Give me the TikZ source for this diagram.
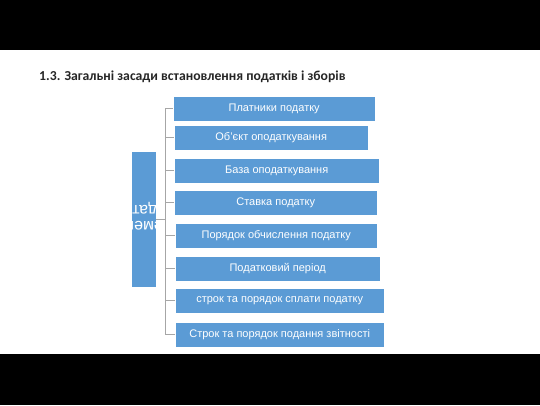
\documentclass[tikz,border=0pt]{standalone}
\usepackage{fontspec}
\setmainfont{Liberation Sans}
\newfontfamily\titlefont{Carlito}
\usepackage{tikz}
\usetikzlibrary{positioning,calc}
\definecolor{boxblue}{HTML}{5B9BD5}
\definecolor{linkgray}{HTML}{A6A6A6}
\tikzset{
    factor/.style={draw=white, line width=0.4pt, fill=boxblue, text=white, anchor=north west,
        minimum height=24.5pt, inner sep=0pt, font=\fontsize{11}{13}\selectfont},
    basis/.style={fill=boxblue, draw=white, line width=0.4pt, anchor=north west, inner sep=0pt},
    link/.style={draw=linkgray, line width=0.8pt},
    band/.style={fill=black}
}

\begin{document}
\begin{tikzpicture}[x=1pt, y=-1pt]
            \useasboundingbox (0,0) rectangle (540,405);
            % slide bands
            \fill[band] (0,0) rectangle (540,50);
            \fill[band] (0,354) rectangle (540,405);

            % title
            \node[anchor=west, inner sep=0pt, font=\titlefont\bfseries\fontsize{13.7}{16}\selectfont,
                text=black!85] (title) at (39,77) {1.3. Загальні засади встановлення податків і зборів};

            % left block
            \node[basis, minimum width=25pt, minimum height=136pt] (elem) at (131,151) {};
            \begin{scope}
                \clip (elem.north west) rectangle (elem.south east);
                \node[rotate=180, text=white, align=center, inner sep=0pt,
                    font=\fontsize{16}{16}\selectfont] (elemtext) at (146,217) {Елементи\\податку};
            \end{scope}

            % elements of the tax
            \node[factor, minimum width=202pt] (p1) at (173,96) {Платники податку};
            \node[factor, minimum width=194pt] (p2) at (174,125) {Об’єкт оподаткування};
            \node[factor, minimum width=205pt] (p3) at (174,158) {База оподаткування};
            \node[factor, minimum width=203pt] (p4) at (174,190) {Ставка податку};
            \node[factor, minimum width=202pt] (p5) at (175,223) {Порядок обчислення податку};
            \node[factor, minimum width=205pt] (p6) at (175,256) {Податковий період};
            \node[factor, minimum width=209pt] (p7) at (175,288) {строк та порядок сплати податку};
            \node[factor, minimum width=209pt] (p8) at (175,322) {Строк та порядок подання звітності};

            % connectors
            \coordinate (bustop) at (165,108);
            \coordinate (busbot) at (165,334);
            \draw[link] (bustop) -- (busbot);
            \draw[link] (elem.east) -- (elem.east -| bustop);
            \foreach \i in {1,...,8}
                \draw[link] (p\i.west -| bustop) -- (p\i.west);
        \end{tikzpicture}
\end{document}
